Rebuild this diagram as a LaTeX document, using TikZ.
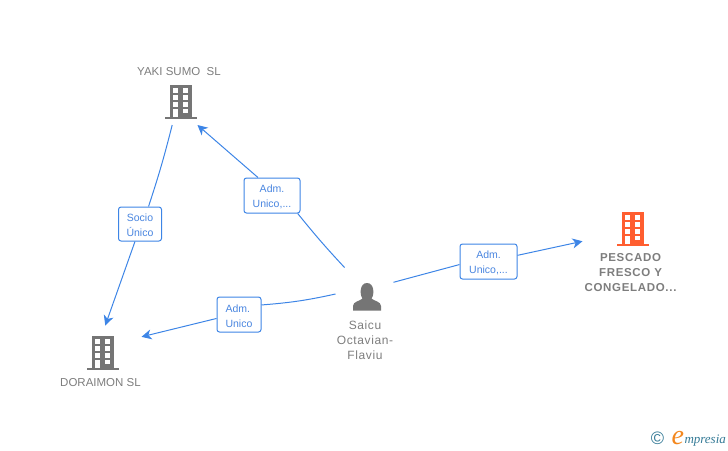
\documentclass[tikz,border=0pt]{standalone}
\usepackage{fontspec}
\setmainfont{Liberation Sans}
\newfontfamily\logofont{Liberation Serif}
\definecolor{myline}{RGB}{61,133,230}
\definecolor{mytext}{RGB}{74,134,224}
\definecolor{mygray}{RGB}{117,117,117}
\definecolor{mylabel}{RGB}{125,125,125}
\definecolor{myorange}{RGB}{255,94,48}
\definecolor{myteal}{RGB}{52,122,150}
\definecolor{mylogo}{RGB}{243,135,30}
\usetikzlibrary{arrows.meta,positioning}

\begin{document}
\begin{tikzpicture}[
  x=1pt,y=-1pt,
  line width=1pt,
  iconbox/.style={
    rectangle,
    inner sep=0pt
    },
  relbox/.style={
    draw=myline,
    fill=white,
    rounded corners=2.5pt,
    text=mytext,
    font=\fontsize{10.5}{15}\selectfont,
    align=#1,
    inner sep=0pt
    },
  relbox/.default=center,
  namelabel/.style={
    text=mylabel,
    align=center,
    font=\fontsize{11.5}{15}\selectfont
    },
  link/.style={
    myline
    },
  linkarrow/.style={
    myline,
    -{Stealth[length=10pt,width=10pt,inset=3pt]}
    },
  pics/building/.style={
    code={
      \fill[#1] (-11,-16) rectangle (11,16);
      \fill[#1] (-16,15.5) rectangle (16,18);
      \foreach \Wy/\Wh in {-13/5, -6/5, 1/4.5}
        \foreach \Wx in {-8, 2}
          \fill[white] (\Wx,\Wy) rectangle ++(4.5,\Wh);
      \fill[white] (-8,7.5) rectangle ++(4.5,8);
      \fill[white] (2,7.5) rectangle ++(4.5,4.5);
    }
  }
]
\useasboundingbox (0,0) rectangle (728,450);

% anchors
\node[iconbox, minimum width=40, minimum height=47] (yaki) at (180,101) {};
\node[iconbox, minimum width=78, minimum height=52] (doraimon) at (102,352) {};
\node[iconbox, minimum width=98, minimum height=52] (pescado) at (632,228) {};
\node[iconbox, minimum width=57, minimum height=52] (saicu) at (364.5,294) {};

% icons
\pic at (181,101) {building=mygray};
\pic at (103,352) {building=mygray};
\pic at (633,228) {building=myorange};
\fill[mygray] (353,310.5) -- (353,306) .. controls (353,301.5) and (360,301) .. (362.5,298.5)
  .. controls (359.5,295) and (359.5,283) .. (367,283)
  .. controls (374.5,283) and (374.5,295) .. (371.5,298.5)
  .. controls (374,301) and (381,301.5) .. (381,306) -- (381,310.5) -- cycle;

% relation boxes
\node[relbox, minimum width=43, minimum height=34] (socio) at (140,224) {\rule{0pt}{11pt}Socio\\Único};
\node[relbox, minimum width=56, minimum height=35] (admyaki) at (272,195.5) {\rule{0pt}{11pt}Adm.\\Unico,...};
\node[relbox=left, minimum width=44, minimum height=35] (admdor) at (239,314.5) {\rule{0pt}{11pt}Adm.\\Unico};
\node[relbox, minimum width=57, minimum height=35] (admpes) at (488.5,261.5) {\rule{0pt}{11pt}Adm.\\Unico,...};

% connectors
\draw[link] (yaki.-108.8) to[bend left=2] (socio.64.8);
\draw[linkarrow] (socio.-106) -- (doraimon.83.4);
\draw[link] (saicu.127) to[bend left=2] (admyaki.-35);
\draw[linkarrow] (admyaki.128.7) -- (yaki.-54);
\draw[link] (saicu.180) to[bend left=4] (admdor.23);
\draw[linkarrow] (admdor.-170) -- (doraimon.21);
\draw[link] (saicu.22.8) -- (admpes.-174);
\draw[linkarrow] (admpes.12.8) -- (pescado.-165);

% labels
\node[namelabel] (yakilabel) at (179,72) {YAKI SUMO\ \ SL};
\node[namelabel] (doraimonlabel) at (100.5,383) {DORAIMON SL};
\node[namelabel, font=\fontsize{11.5}{15}\selectfont\bfseries\addfontfeatures{LetterSpace=6}] (pescadolabel) at (630.5,273) {PESCADO\\FRESCO Y\\CONGELADO...};
\node[namelabel, font=\fontsize{12}{15}\selectfont\addfontfeatures{LetterSpace=5}] (saiculabel) at (365,340) {Saicu\\Octavian-\\Flaviu};

% logo
\node[text=myteal, font=\fontsize{18}{18}\selectfont, inner sep=0pt] (logoc) at (657.5,438.5) {©};
\node[text=mylogo, font=\logofont\itshape\fontsize{28}{28}\selectfont, inner sep=0pt, anchor=base west] (logoe) at (671,444) {e};
\node[text=myteal, font=\logofont\itshape\fontsize{13}{14}\selectfont, inner sep=0pt, anchor=base west] (logotext) at (684,443) {mpresia};
\end{tikzpicture}
\end{document}
